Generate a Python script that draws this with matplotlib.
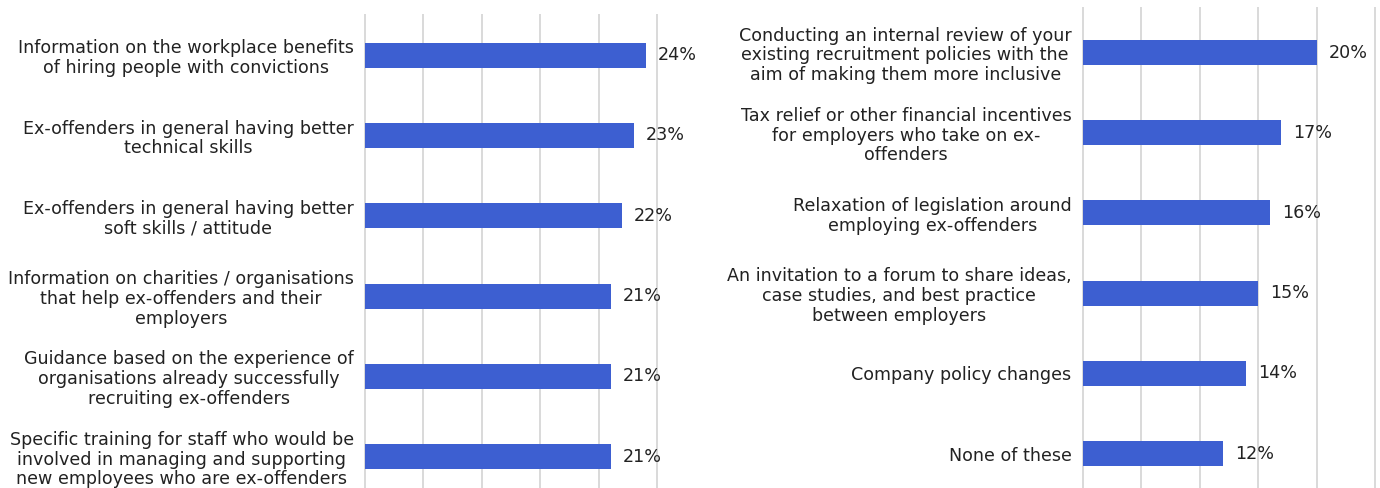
import matplotlib
matplotlib.use("Agg")
import matplotlib.pyplot as plt

left_labels = [
    "Information on the workplace benefits\nof hiring people with convictions",
    "Ex-offenders in general having better\ntechnical skills",
    "Ex-offenders in general having better\nsoft skills / attitude",
    "Information on charities / organisations\nthat help ex-offenders and their\nemployers",
    "Guidance based on the experience of\norganisations already successfully\nrecruiting ex-offenders",
    "Specific training for staff who would be\ninvolved in managing and supporting\nnew employees who are ex-offenders",
]
left_values = [24, 23, 22, 21, 21, 21]

right_labels = [
    "Conducting an internal review of your\nexisting recruitment policies with the\naim of making them more inclusive",
    "Tax relief or other financial incentives\nfor employers who take on ex-\noffenders",
    "Relaxation of legislation around\nemploying ex-offenders",
    "An invitation to a forum to share ideas,\ncase studies, and best practice\nbetween employers",
    "Company policy changes",
    "None of these",
]
right_values = [20, 17, 16, 15, 14, 12]

BAR_COLOR = "#3D5FD1"
GRID_COLOR = "#D9D9D9"
TEXT_COLOR = "#222222"
FONT = ["DejaVu Sans"]
FS = 12.6

W, H = 1380, 488
fig = plt.figure(figsize=(W / 100, H / 100), dpi=100)


def make_panel(x0, x1, top_px, first_center_px, spacing_px, labels, values):
    ax = fig.add_axes([x0 / W, 0, (x1 - x0) / W, 1 - top_px / H])
    n = len(values)
    y = list(range(n))
    ax.barh(y, values, height=25 / spacing_px, color=BAR_COLOR, zorder=3)
    ytop = -(first_center_px - top_px) / spacing_px
    ybot = (n - 1) + (H - (first_center_px + (n - 1) * spacing_px)) / spacing_px
    ax.set_ylim(ybot, ytop)
    ax.set_xlim(0, 25)
    ax.set_xticks([0, 5, 10, 15, 20, 25])
    ax.set_xticklabels([])
    ax.tick_params(axis="x", length=0)
    ax.xaxis.grid(True, color=GRID_COLOR, linewidth=1.4, zorder=0)
    for gl in ax.get_xgridlines():
        gl.set_clip_on(False)
    ax.set_axisbelow(True)
    ax.set_yticks(y)
    ax.set_yticklabels(labels, fontsize=FS, family=FONT, color=TEXT_COLOR,
                       multialignment="center", linespacing=1.13)
    ax.tick_params(axis="y", length=0, pad=8)
    for s in ax.spines.values():
        s.set_visible(False)
    for yi, v in zip(y, values):
        ax.annotate(f"{v}%", (v, yi), xytext=(12, 0), textcoords="offset pixels",
                    va="center", ha="left", fontsize=FS, family=FONT,
                    color=TEXT_COLOR)
    return ax


make_panel(365, 657.3, 15, 55.2, 80.3, left_labels, left_values)
make_panel(1082.7, 1375, 8, 52.5, 80.24, right_labels, right_values)

fig.savefig("out.png", dpi=100, facecolor="white")
